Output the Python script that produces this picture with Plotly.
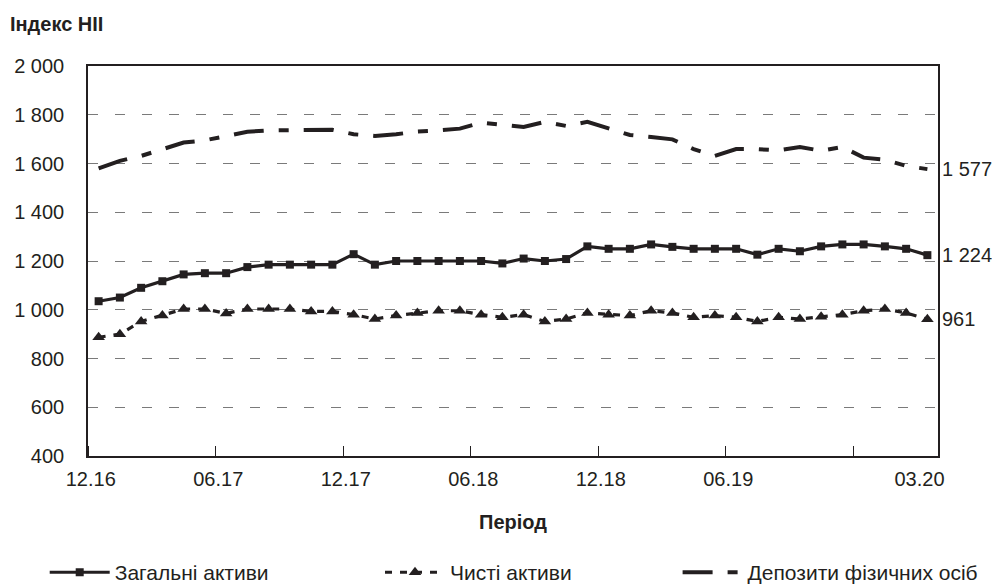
import plotly.graph_objects as go

periods = ["12.16","01.17","02.17","03.17","04.17","05.17","06.17","07.17","08.17","09.17","10.17","11.17",
           "12.17","01.18","02.18","03.18","04.18","05.18","06.18","07.18","08.18","09.18","10.18","11.18",
           "12.18","01.19","02.19","03.19","04.19","05.19","06.19","07.19","08.19","09.19","10.19","11.19",
           "12.19","01.20","02.20","03.20"]

total_assets = [1035, 1050, 1090, 1117, 1145, 1150, 1150, 1175, 1185, 1185, 1185, 1185,
                1228, 1185, 1200, 1200, 1200, 1200, 1200, 1190, 1210, 1200, 1208, 1260,
                1250, 1250, 1268, 1258, 1250, 1250, 1250, 1226, 1250, 1240, 1260, 1268,
                1268, 1260, 1250, 1224]

net_assets = [887, 900, 952, 976, 1003, 1003, 985, 1003, 1003, 1003, 993, 993,
              980, 962, 976, 987, 996, 996, 980, 969, 980, 952, 962, 987,
              980, 976, 996, 987, 969, 976, 969, 952, 969, 962, 971, 980,
              996, 1003, 987, 961]

deposits = [1580, 1611, 1631, 1659, 1686, 1695, 1713, 1730, 1736, 1738, 1738, 1738,
            1720, 1713, 1720, 1731, 1736, 1743, 1768, 1761, 1750, 1771, 1754, 1771,
            1743, 1717, 1709, 1699, 1659, 1631, 1659, 1659, 1654, 1668, 1652, 1668,
            1624, 1615, 1590, 1577]

series_names = ["Загальні активи", "Чисті активи", "Депозити фізичних осіб"]
label_periods = ["12.16", "06.17", "12.17", "06.18", "12.18", "06.19", "03.20"]
tick_periods = ["12.16", "06.17", "12.17", "06.18", "12.18", "06.19", "12.19"]

x = list(range(len(periods)))
INK = "#231f20"
FONT = "Liberation Sans Narrow, Liberation Sans, Arial, sans-serif"
FS = 20

fig = go.Figure()
fig.add_trace(go.Scatter(x=x, y=total_assets, name=series_names[0], mode="lines+markers",
                         line=dict(color=INK, width=3.2), showlegend=True,
                         marker=dict(symbol="square", size=8, color=INK), legend="legend"))
fig.add_trace(go.Scatter(x=x, y=net_assets, name=series_names[1], mode="lines+markers",
                         line=dict(color=INK, width=3.2, dash="7px,8px"), showlegend=True,
                         marker=dict(symbol="triangle-up", size=11, color=INK), legend="legend2"))
fig.add_trace(go.Scatter(x=x, y=deposits, name=series_names[2], mode="lines", showlegend=True,
                         line=dict(color=INK, width=4, dash="30px,15px,10px,15px"), legend="legend3"))

def fmt(v):
    return f"{v:,}".replace(",", " ")

for s in (deposits, total_assets, net_assets):
    fig.add_annotation(x=1, xref="paper", y=s[-1], yref="y", text=fmt(s[-1]),
                       showarrow=False, xanchor="left", xshift=2,
                       font=dict(family=FONT, size=FS, color=INK))

lab_vals = [periods.index(p) - 0.5 + 0.13 for p in label_periods]
tick_vals = [periods.index(p) - 0.5 for p in tick_periods]

fig.update_xaxes(range=[-0.5, len(periods) - 0.5], tickmode="array", tickvals=lab_vals,
                 ticktext=label_periods, ticks="", showgrid=False, zeroline=False,
                 showline=True, linecolor=INK, linewidth=1.6, mirror=True,
                 ticklabelstandoff=4, automargin=False,
                 minor=dict(tickmode="array", tickvals=tick_vals, ticks="inside",
                            ticklen=10, tickcolor=INK, tickwidth=1.2, showgrid=False),
                 tickfont=dict(family=FONT, size=FS, color=INK),
                 title=dict(text="<b>Період</b>", standoff=26,
                            font=dict(family=FONT, size=FS, color=INK)))
fig.update_yaxes(range=[400, 2000], dtick=200, tick0=400, tickformat=",d",
                 showgrid=True, gridcolor="#7a7a7a", gridwidth=1.3, griddash="10px,17px",
                 zeroline=False, showline=True, linecolor=INK, linewidth=1.6, mirror=True,
                 ticks="", ticklabelstandoff=18, automargin=False,
                 tickfont=dict(family=FONT, size=FS, color=INK))

leg_common = dict(orientation="h", xref="container", yref="container", yanchor="top",
                  y=0.057, bgcolor="rgba(0,0,0,0)", font=dict(family=FONT, size=21, color=INK),
                  itemwidth=60)
fig.update_layout(
    width=992, height=577,
    margin=dict(l=80, r=62, t=58, b=129, autoexpand=False),
    paper_bgcolor="white", plot_bgcolor="white",
    separators=", ",
    font=dict(family=FONT, size=FS, color=INK),
    title=dict(text="<b>Індекс НІІ</b>", x=0.002, xanchor="left", y=0.972, yanchor="middle",
               font=dict(family=FONT, size=FS, color=INK)),
    legend=dict(x=0.037, xanchor="left", **leg_common),
    legend2=dict(x=0.375, xanchor="left", **leg_common),
    legend3=dict(x=0.675, xanchor="left", **leg_common),
)

fig.write_html("out.html")
